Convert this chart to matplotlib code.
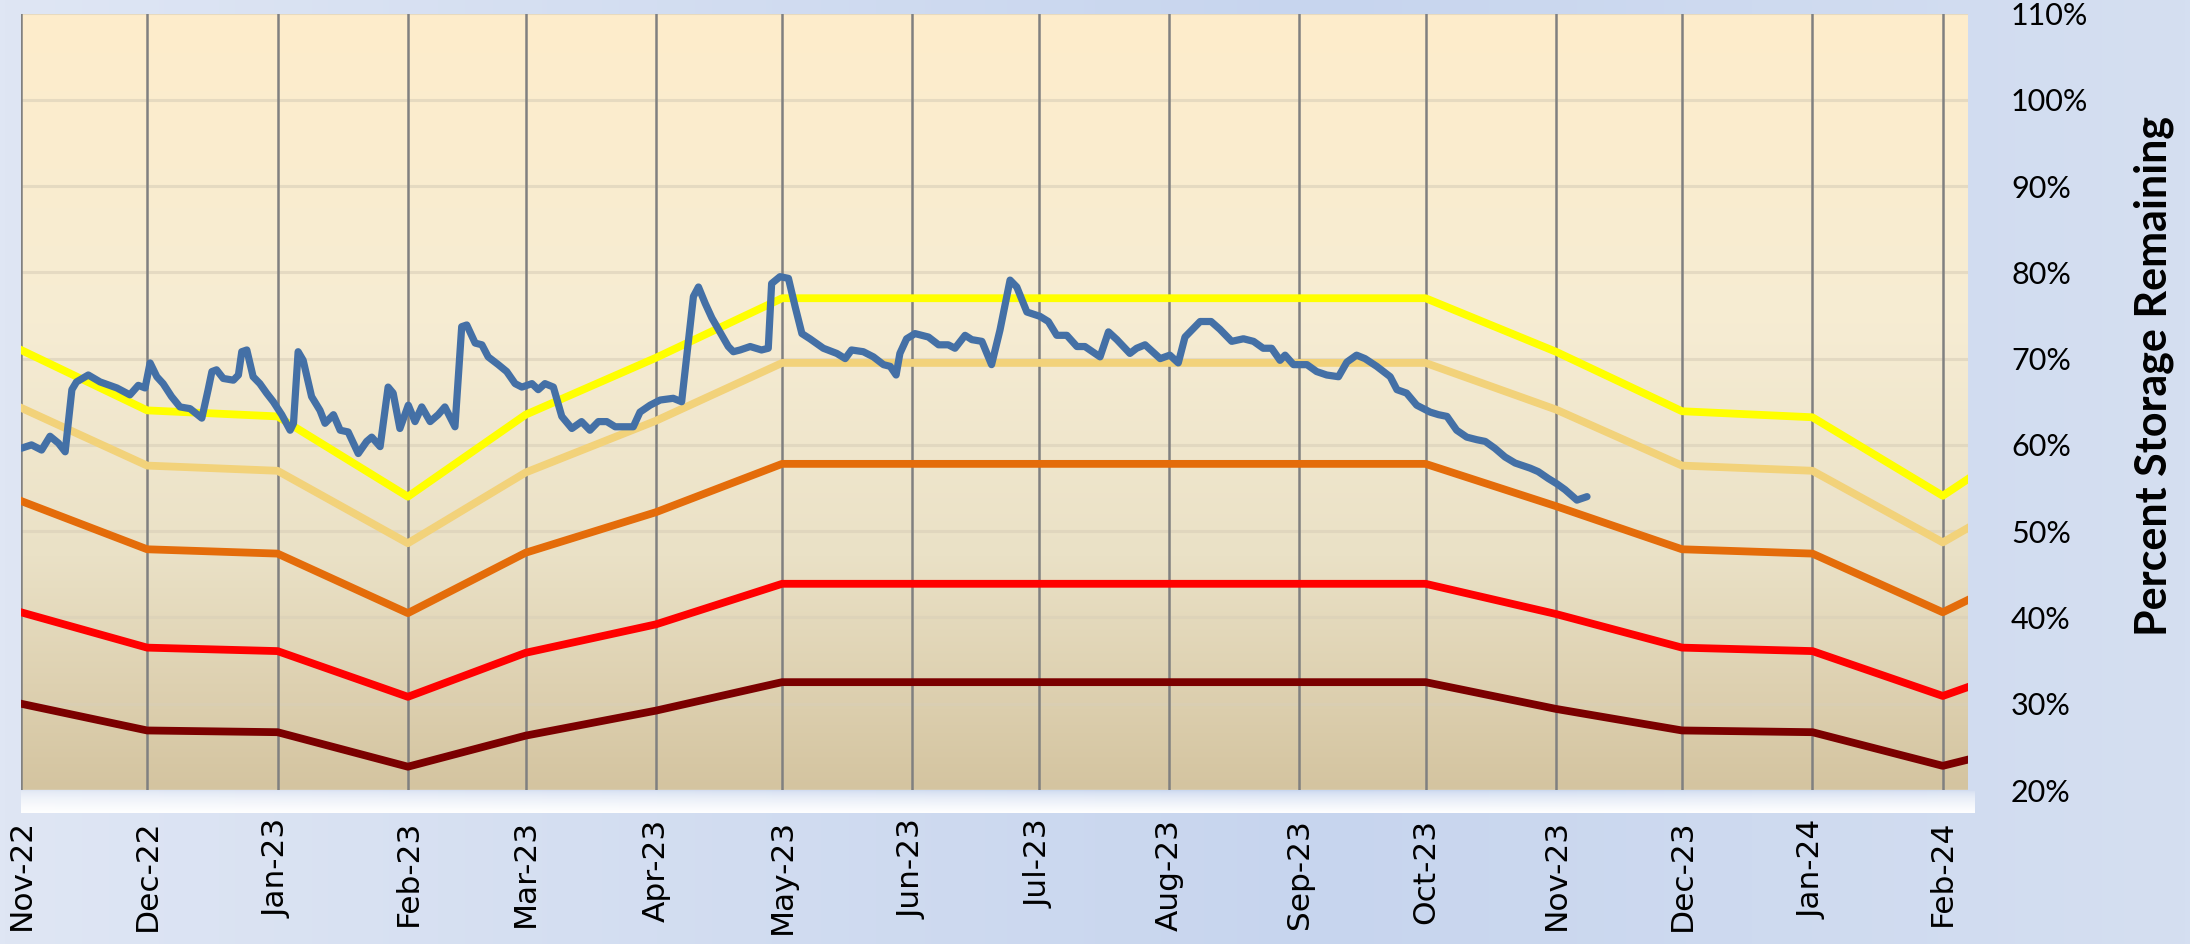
import numpy as np
import pandas as pd
import matplotlib
matplotlib.use("Agg")
import matplotlib.pyplot as plt
import matplotlib.dates as mdates

# reservoir storage (day offset from 1 Nov 2022, percent)
storage_days = [0, 2.5, 4.9, 6.9, 8.9, 10.5, 12.1, 13.2, 16.0, 18.8, 22.8, 25.9, 27.9, 29.5,
                30.7, 32.3, 33.8, 35.8, 37.8, 40.2, 43.0, 44.5, 45.4, 46.5, 48.1, 50.5, 51.7,
                52.5, 53.7, 55.2, 56.8, 58.4, 60.0, 62.0, 64.0, 64.8, 65.9, 67.1, 69.1, 71.1,
                72.3, 74.3, 75.9, 77.8, 80.2, 82.2, 83.4, 85.4, 87.3, 88.5, 90.1, 92.1, 93.7,
                95.3, 97.3, 99.2, 100.8, 103.2, 104.8, 106.0, 108.0, 109.6, 111.1, 113.5, 115.5,
                117.5, 119.1, 121.5, 123.0, 124.6, 126.6, 128.6, 131.0, 133.3, 135.3, 137.3,
                139.3, 141.3, 145.6, 147.2, 149.6, 152.0, 155.1, 157.1, 159.9, 161.1, 162.7,
                164.3, 166.2, 168.2, 169.4, 171.0, 173.4, 176.1, 177.7, 178.5, 180.5, 182.5,
                184.1, 185.7, 187.6, 190.8, 194.0, 196.0, 197.5, 200.3, 202.7, 205.1, 206.7,
                208.1, 209.0, 210.6, 212.6, 215.8, 218.2, 220.5, 222.1, 224.5, 226.1, 228.5,
                230.8, 232.8, 235.2, 236.8, 239.2, 242.3, 244.3, 246.3, 248.7, 251.1, 253.0,
                256.6, 258.6, 260.6, 263.7, 265.3, 267.3, 270.9, 273.2, 275.2, 276.8, 280.4,
                283.0, 285.1, 287.9, 290.7, 293.1, 295.4, 297.4, 299.4, 300.6, 302.6, 305.8,
                308.1, 310.5, 313.3, 315.3, 317.6, 319.6, 322.4, 325.6, 327.2, 329.5, 331.9,
                335.1, 337.1, 339.1, 341.4, 343.8, 346.2, 348.2, 350.5, 352.9, 355.3, 358.9,
                360.8, 363.2, 365.2, 367.2, 370.0, 372.4]
storage_pct = [59.6, 60.0, 59.4, 61.0, 60.2, 59.2, 66.4, 67.3, 68.1, 67.3, 66.6, 65.8, 66.9, 66.6,
               69.5, 67.9, 67.1, 65.6, 64.4, 64.2, 63.1, 66.4, 68.5, 68.7, 67.7, 67.5, 68.1,
               70.8, 71.0, 67.9, 67.1, 66.0, 65.0, 63.5, 61.7, 62.5, 70.8, 69.8, 65.6, 64.0,
               62.5, 63.5, 61.7, 61.5, 59.0, 60.4, 60.9, 59.8, 66.7, 66.0, 61.9, 64.6, 62.7,
               64.4, 62.7, 63.5, 64.4, 62.1, 73.7, 73.9, 71.8, 71.6, 70.2, 69.3, 68.5,
               67.1, 66.7, 67.1, 66.4, 67.1, 66.7, 63.3, 61.9, 62.7, 61.7, 62.7,
               62.7, 62.1, 62.1, 63.8, 64.6, 65.2, 65.4, 65.0, 77.2, 78.3, 76.4,
               74.7, 73.1, 71.4, 70.8, 71.0, 71.4, 71.0, 71.2, 78.7, 79.5, 79.3,
               76.0, 72.9, 72.3, 71.2, 70.6, 70.0, 71.0, 70.8, 70.2, 69.3, 69.1,
               68.1, 70.6, 72.3, 72.9, 72.5, 71.6, 71.6, 71.2, 72.7, 72.2, 72.0,
               69.3, 73.3, 79.1, 78.3, 75.4, 74.9, 74.3, 72.7, 72.7, 71.4, 71.4,
               70.2, 73.1, 72.2, 70.6, 71.2, 71.6, 70.0, 70.4, 69.5, 72.5, 74.3,
               74.3, 73.4, 72.0, 72.3, 72.0, 71.2, 71.2, 69.8, 70.4, 69.3, 69.3,
               68.5, 68.1, 67.9, 69.6, 70.4, 70.0, 69.1, 67.9, 66.4, 66.0, 64.6,
               63.8, 63.5, 63.3, 61.7, 60.9, 60.6, 60.4, 59.6, 58.6, 57.9, 57.3,
               56.9, 56.1, 55.5, 54.8, 53.6, 54.0]

# rule curve vertices, first of each month Nov-22 .. Mar-24
curve_months = pd.date_range("2022-11-01", "2024-03-01", freq="MS")
curve_yellow = [71.0, 64.0, 63.3, 54.0, 63.5, 70.1, 77.0, 77.0, 77.0, 77.0, 77.0, 77.0,
                70.8, 63.9, 63.2, 54.1, 63.5]
curve_lightorange = [64.3, 57.6, 57.0, 48.6, 56.8, 62.8, 69.5, 69.5, 69.5, 69.5, 69.5, 69.5,
                     64.1, 57.6, 57.0, 48.7, 56.8]
curve_orange = [53.5, 47.9, 47.4, 40.5, 47.5, 52.2, 57.8, 57.8, 57.8, 57.8, 57.8, 57.8,
                52.9, 47.9, 47.4, 40.6, 47.5]
curve_red = [40.6, 36.5, 36.1, 30.8, 35.9, 39.2, 43.9, 43.9, 43.9, 43.9, 43.9, 43.9,
             40.4, 36.5, 36.1, 30.9, 35.9]
curve_darkred = [30.0, 26.9, 26.7, 22.7, 26.3, 29.2, 32.5, 32.5, 32.5, 32.5, 32.5, 32.5,
                 29.4, 26.9, 26.7, 22.8, 26.3]

tick_months = pd.date_range("2022-11-01", "2024-02-01", freq="MS")
y_ticks = list(range(20, 111, 10))

W, H = 2190, 944
fig = plt.figure(figsize=(W / 100, H / 100), dpi=100)

# figure background: soft blue gradient plus the white strip under the plot
bg = fig.add_axes([0, 0, 1, 1], zorder=-5)
bg.set_axis_off()
xs = np.linspace(0, 1, 400)
stops_x = [0.0, 0.6, 1.0]
left_c = np.array([223, 230, 244]) / 255
mid_c = np.array([199, 213, 238]) / 255
right_c = np.array([213, 223, 241]) / 255
cols = np.stack([np.interp(xs, stops_x, [left_c[i], mid_c[i], right_c[i]]) for i in range(3)], axis=-1)
img = np.repeat(cols[None, :, :], 10, axis=0)
bg.imshow(img, extent=[0, 1, 0, 1], aspect="auto")
strip = np.ones((30, 2, 4))
strip[:, :, 3] = np.linspace(0.0, 1.0, 30)[:, None] ** 0.6
bg.imshow(strip, extent=[21 / W, 1975 / W, 1 - 813 / H, 1 - 790 / H], aspect="auto")
bg.set_xlim(0, 1)
bg.set_ylim(0, 1)

ax = fig.add_axes([21 / W, 1 - 790 / H, (1968 - 21) / W, (790 - 13.5) / H])

# plot area gradient, cream to tan
ys = np.linspace(0, 1, 300)
stops_y = [0.0, 0.4, 0.7, 1.0]
top_c = [(254, 237, 203), (246, 236, 211), (234, 225, 198), (212, 196, 160)]
grad = np.stack([np.interp(ys, stops_y, [c[i] / 255 for c in top_c]) for i in range(3)], axis=-1)
grad = np.repeat(grad[:, None, :], 4, axis=1)
ax.imshow(grad, extent=[0, 1, 0, 1], transform=ax.transAxes, aspect="auto", zorder=0)

start = pd.Timestamp("2022-11-01")
storage_dates = start + pd.to_timedelta(storage_days, unit="D")

for vals, col in [(curve_darkred, "#7b0000"), (curve_red, "#ff0000"), (curve_orange, "#e46c0a"),
                  (curve_lightorange, "#f2d27a"), (curve_yellow, "#ffff00")]:
    ax.plot(curve_months, vals, color=col, lw=5.6, zorder=3, solid_joinstyle="round")

ax.plot(storage_dates, storage_pct, color="#4470a6", lw=5.2, zorder=4,
        solid_joinstyle="round", solid_capstyle="round")

for v in y_ticks:
    ax.axhline(v, color="#d9cfb8", lw=2.2, alpha=0.6, zorder=1)
for m in tick_months:
    ax.axvline(m, color="#808080", lw=1.8, zorder=2)

ax.set_xlim(pd.Timestamp("2022-11-01"), pd.Timestamp("2024-02-07"))
ax.set_ylim(20, 110)
for s in ax.spines.values():
    s.set_visible(False)

ax.set_xticks(tick_months)
ax.xaxis.set_major_formatter(mdates.DateFormatter("%b-%y"))
ax.tick_params(axis="x", length=0, pad=21, labelsize=22.5, labelrotation=90)
for lbl in ax.get_xticklabels():
    lbl.set_family("DejaVu Sans")
    lbl.set_color("black")

ax.yaxis.tick_right()
ax.set_yticks(y_ticks)
ax.set_yticklabels([f"{v}%" for v in y_ticks], family="Lato", fontsize=22)
ax.tick_params(axis="y", length=0, pad=31)

fig.text(2154 / W, 1 - 376 / H, "Percent Storage Remaining", rotation=90, ha="center",
         va="center", fontsize=31, fontweight="bold", family="Lato")

plt.savefig("out.png", dpi=100)
